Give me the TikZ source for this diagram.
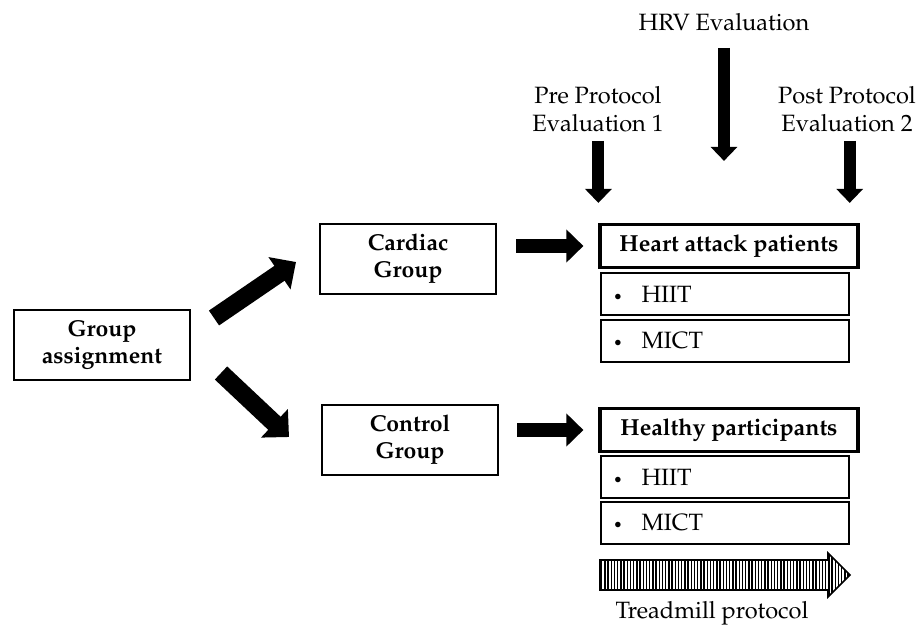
\documentclass[tikz,border=0pt]{standalone}
\usepackage[T1]{fontenc}
\usepackage{mathpazo}
\usetikzlibrary{arrows.meta,patterns.meta}

\tikzset{
  grpbox/.style={draw, line width=1pt, minimum width=88pt, minimum height=35pt,
    align=center, font=\fontsize{11.5}{13.5}\selectfont\bfseries},
  headbox/.style={draw, line width=1.6pt, minimum width=129pt, minimum height=21.5pt,
    font=\fontsize{11.6}{13.5}\selectfont\bfseries},
  listbox/.style={draw, line width=0.7pt, minimum width=124pt, minimum height=21pt,
    text width=112pt, align=left, font=\fontsize{11.8}{13.5}\selectfont},
  evaltext/.style={align=center, font=\fontsize{11.8}{14}\selectfont},
  bigarrow/.style={line width=7pt, -{Triangle[length=8.5pt,width=16pt]}},
  diagarrow/.style={line width=9pt, -{Triangle[length=10pt,width=19pt]}},
  downarrow/.style={line width=6pt, -{Triangle[length=7pt,width=13pt]}},
}

\begin{document}
\begin{tikzpicture}[x=0.5pt,y=-0.5pt]
  \useasboundingbox (0,0) rectangle (921,632);

  % boxes
  \node[grpbox] (group) at (102,345) {Group\\assignment};
  \node[grpbox] (cardiac) at (408,259) {Cardiac\\Group};
  \node[grpbox] (control) at (410,440) {Control\\Group};

  \node[headbox] (heart) at (729,246) {Heart attack patients};
  \node[listbox] (hiitA) at (725,294) {{\footnotesize\textbullet}\hspace{0.8em}HIIT};
  \node[listbox] (mictA) at (725,341) {{\footnotesize\textbullet}\hspace{0.8em}MICT};

  \node[headbox] (healthy) at (729,430) {Healthy participants};
  \node[listbox] (hiitB) at (725,477) {{\footnotesize\textbullet}\hspace{0.8em}HIIT};
  \node[listbox] (mictB) at (725,523) {{\footnotesize\textbullet}\hspace{0.8em}MICT};

  % evaluations
  \node[evaltext] (hrv) at (724,22) {HRV Evaluation};
  \node[evaltext] (pre) at (598,109) {Pre Protocol\\Evaluation 1};
  \node[evaltext] (post) at (847,109) {Post Protocol\\Evaluation 2};

  \draw[downarrow, shorten <=1pt, shorten >=10pt] (heart.north west |- pre.south) -- (heart.north west);
  \draw[downarrow, shorten <=5pt, shorten >=31pt] (hrv.south) -- (hrv.south |- heart.north);
  \draw[downarrow, shorten <=1pt, shorten >=10pt] (hiitA.east |- post.south) -- (hiitA.east |- heart.north);

  % group arrows
  \draw[diagarrow] ([shift={(23,-27)}]group.east) -- ([shift={(-23,3)}]cardiac.west);
  \draw[diagarrow] ([shift={(30,28)}]group.east) -- ([shift={(-32,-3)}]control.west);
  \draw[bigarrow, shorten <=9.5pt, shorten >=7.5pt] (cardiac.east |- heart.west) -- (heart.west);
  \draw[bigarrow, shorten <=9pt, shorten >=7.5pt] (control.east |- healthy.west) -- (healthy.west);

  % treadmill
  \filldraw[line width=0.8pt, pattern={Lines[angle=90,distance=1.6pt,line width=0.7pt]}]
    (600,560) -- (828,560) -- (828,553) -- (850,575) -- (828,597) -- (828,590) -- (600,590) -- cycle;
  \node[evaltext] (tread) at (712,613) {Treadmill protocol};
\end{tikzpicture}
\end{document}
